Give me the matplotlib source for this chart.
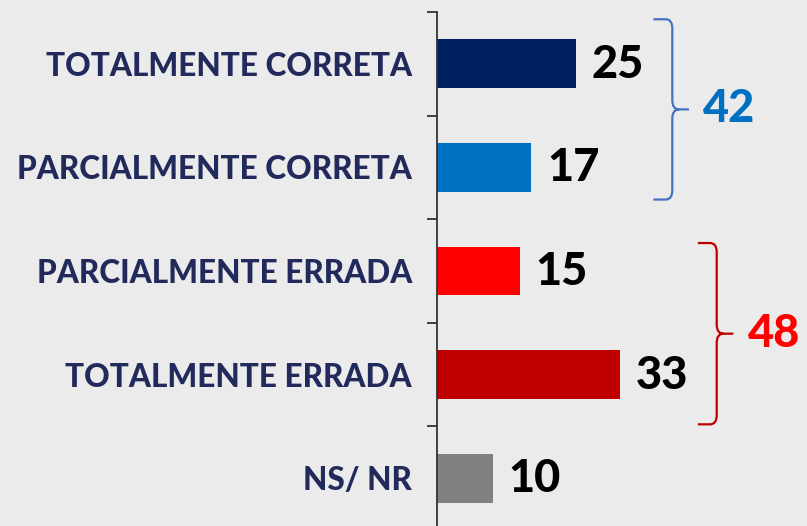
import matplotlib
matplotlib.use("Agg")
import matplotlib.pyplot as plt
from matplotlib.path import Path
from matplotlib.patches import PathPatch
import numpy as np

categories = ["TOTALMENTE CORRETA", "PARCIALMENTE CORRETA", "PARCIALMENTE ERRADA",
              "TOTALMENTE ERRADA", "NS/ NR"]
values = [25, 17, 15, 33, 10]
bar_colors = ["#002060", "#0070C0", "#FF0000", "#C00000", "#808080"]

# grouped totals shown beside curly braces
group_members = [[0, 1], [2, 3]]
group_totals = [42, 48]
group_text_colors = ["#0070C0", "#FF0000"]
group_brace_colors = ["#4472C4", "#C00000"]
# vertical reach of each brace beyond its first / last bar centre (category units)
group_reach = [(0.43, 0.31), (0.27, 0.48)]

BG = "#EBEBEB"
FONT = "Lato"

W, H = 807, 526
fig = plt.figure(figsize=(W / 100, H / 100), dpi=100, facecolor=BG)
ax_left, ax_top, ax_bot = 437, 12, 530
ax = fig.add_axes([ax_left / W, (H - ax_bot) / H, (W - ax_left) / W, (ax_bot - ax_top) / H])
ax.set_facecolor(BG)

y = np.arange(len(categories))
ax.barh(y, values, height=0.47, color=bar_colors)
ax.set_ylim(len(categories) - 0.5, -0.5)
ax.set_xlim(0, (W - ax_left) / 5.55)

for s in ["top", "right", "bottom"]:
    ax.spines[s].set_visible(False)
ax.spines["left"].set_color("#333333")
ax.spines["left"].set_linewidth(1.3)
ax.set_xticks([])

ax.set_yticks(y)
ax.set_yticklabels(categories, fontfamily=FONT, fontweight="black", fontsize=22.7, color="#222A5C")
ax.tick_params(axis="y", which="major", length=0, pad=18)
ax.set_yticks(np.arange(len(categories) + 1) - 0.5, minor=True)
ax.tick_params(axis="y", which="minor", length=7.5, width=1.3, color="#333333", direction="out")

for yi, v in zip(y, values):
    ax.text(v + 2.8, yi + 0.01, str(v), va="center", ha="left", fontfamily=FONT,
            fontweight="black", fontsize=32.5, color="black")

# curly braces with group totals
arm, rx, ry, tip = 3.4, 1.2, 0.09, 3.0
for members, total, tcol, bcol, (up, down) in zip(group_members, group_totals,
                                                  group_text_colors, group_brace_colors,
                                                  group_reach):
    xv = max(values[i] for i in members) + 17.4
    ytop = members[0] - up
    ybot = members[-1] + down
    ymid = (ytop + ybot) / 2
    verts = [
        (xv - arm, ytop), (xv - rx, ytop), (xv, ytop), (xv, ytop + ry),
        (xv, ymid - ry), (xv, ymid), (xv + rx, ymid), (xv + tip, ymid),
        (xv + rx, ymid), (xv, ymid), (xv, ymid + ry),
        (xv, ybot - ry), (xv, ybot), (xv - rx, ybot), (xv - arm, ybot),
    ]
    codes = [
        Path.MOVETO, Path.LINETO, Path.CURVE3, Path.CURVE3,
        Path.LINETO, Path.CURVE3, Path.CURVE3, Path.LINETO,
        Path.MOVETO, Path.CURVE3, Path.CURVE3,
        Path.LINETO, Path.CURVE3, Path.CURVE3, Path.LINETO,
    ]
    ax.add_patch(PathPatch(Path(verts, codes), fill=False, edgecolor=bcol, lw=1.6,
                           clip_on=False))
    ax.text(xv + tip + 2.6, ymid, str(total), va="center", ha="left", fontfamily=FONT,
            fontweight="black", fontsize=32.5, color=tcol)

fig.savefig("out.png", dpi=100, facecolor=BG)
